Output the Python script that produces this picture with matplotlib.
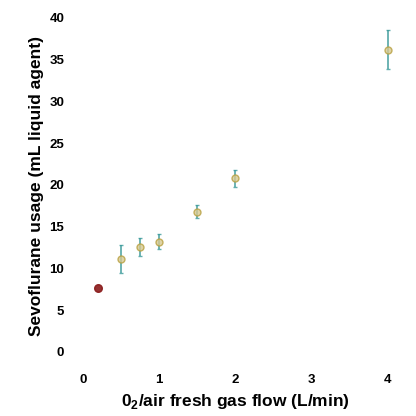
import numpy as np
import matplotlib
matplotlib.use('Agg')
import matplotlib.pyplot as plt

plt.rcParams['font.family'] = ['Liberation Sans', 'DejaVu Sans']
plt.rcParams['mathtext.fontset'] = 'custom'
plt.rcParams['mathtext.bf'] = 'Liberation Sans:bold'

flow = [0.2, 0.5, 0.75, 1.0, 1.5, 2.0, 4.0]
usage = [7.7, 11.1, 12.6, 13.2, 16.8, 20.8, 36.2]
err = [0.3, 1.7, 1.1, 0.9, 0.8, 1.0, 2.3]

fig, ax = plt.subplots(figsize=(4.16, 4.16), dpi=100)
fig.subplots_adjust(left=0.181, right=0.951, bottom=0.140, top=0.967)

ax.errorbar(flow[1:], usage[1:], yerr=err[1:], fmt='o', ms=5, mfc='#d8c890', mec='#b8a040',
            ecolor='#3a9a9a', elinewidth=1.3, capsize=1.5, alpha=0.8)
ax.plot(flow[0], usage[0], 'o', ms=5.5, color='#8a1a1a', alpha=0.9)

ax.set_xlim(-0.1, 4.1)
ax.set_ylim(-0.7, 40.5)
ax.set_xticks([0, 1, 2, 3, 4])
ax.set_yticks(range(0, 41, 5))
for s in ax.spines.values():
    s.set_visible(False)
ax.tick_params(length=0, labelsize=9.5)
ax.tick_params(axis='x', pad=12)
ax.tick_params(axis='y', pad=8)
for t in ax.get_xticklabels() + ax.get_yticklabels():
    t.set_fontweight('bold')

ax.set_xlabel(r'0$_\mathbf{2}$/air fresh gas flow (L/min)', fontsize=12.5, fontweight='bold', labelpad=4)
ax.set_ylabel('Sevoflurane usage (mL liquid agent)', fontsize=12.5, fontweight='bold', labelpad=4)

fig.savefig('out.png', dpi=100)
